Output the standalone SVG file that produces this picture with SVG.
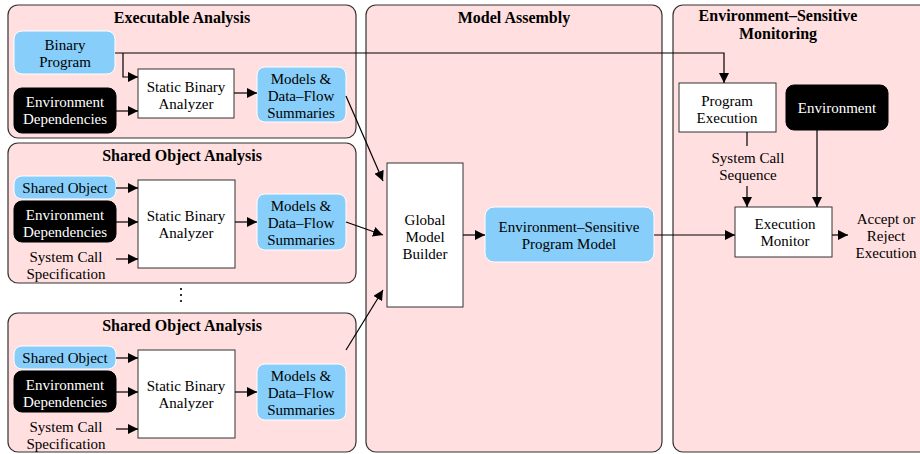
<svg xmlns="http://www.w3.org/2000/svg" width="920" height="454" viewBox="0 0 920 454">
<defs>
<marker id="ah" viewBox="0 0 10 10" refX="10" refY="5" markerWidth="10" markerHeight="10" markerUnits="userSpaceOnUse" orient="auto">
<path d="M0,0 L10,5 L0,10 z" fill="#000"/>
</marker>
</defs>
<style>
text{font-family:"Liberation Serif","Tinos","Times New Roman","DejaVu Serif",serif;font-size:15px;text-anchor:middle;fill:#000}
.title{font-weight:bold;font-size:16px}
.panel{fill:#FFDFDF;stroke:#333;stroke-width:1.2}
.blue{fill:#87CEFA;stroke:#fff;stroke-width:1}
.black{fill:#000;stroke:#000}
.white{fill:#fff;stroke:#333;stroke-width:1}
.wt{fill:#fff}
.conn{fill:none;stroke:#000;stroke-width:1.2}
</style>
<rect width="920" height="454" fill="#fff"/>
<g id="panels">
<rect class="panel" x="8" y="5" width="348" height="133" rx="10"/>
<text class="title" x="182" y="23">Executable Analysis</text>
<rect class="panel" x="8" y="143" width="348" height="140" rx="10"/>
<text class="title" x="182" y="161">Shared Object Analysis</text>
<rect class="panel" x="8" y="313" width="348" height="139" rx="10"/>
<text class="title" x="182" y="331">Shared Object Analysis</text>
<rect class="panel" x="366" y="5" width="296" height="447" rx="10"/>
<text class="title" x="514" y="23">Model Assembly</text>
<rect class="panel" x="673" y="5" width="260" height="447" rx="10"/>
<text class="title" x="778" y="21">Environment–Sensitive</text>
<text class="title" x="778" y="39">Monitoring</text>
</g>
<g id="exe-binary"><rect class="blue" x="14" y="31" width="101" height="43" rx="8"/><text x="65" y="50">Binary</text><text x="65" y="67">Program</text></g>
<g id="exe-env"><rect class="black" x="14" y="88" width="102" height="45" rx="8"/><text class="wt" x="65" y="107">Environment</text><text class="wt" x="65" y="124">Dependencies</text></g>
<g id="exe-sba"><rect class="white" x="138" y="69" width="96" height="49"/><text x="186" y="92">Static Binary</text><text x="186" y="109">Analyzer</text></g>
<g id="exe-models"><rect class="blue" x="257" y="67" width="89" height="55" rx="8"/><text x="301" y="84">Models &amp;</text><text x="301" y="101">Data–Flow</text><text x="301" y="118">Summaries</text></g>

<g id="so1-shared"><rect class="blue" x="14" y="176" width="102" height="23" rx="8"/><text x="65" y="193">Shared Object</text></g>
<g id="so1-env"><rect class="black" x="14" y="201" width="102" height="41" rx="8"/><text class="wt" x="65" y="220">Environment</text><text class="wt" x="65" y="237">Dependencies</text></g>
<g id="so1-spec"><text x="66" y="262">System Call</text><text x="66" y="279">Specification</text></g>
<g id="so1-sba"><rect class="white" x="138" y="180" width="97" height="88"/><text x="186" y="221">Static Binary</text><text x="186" y="238">Analyzer</text></g>
<g id="so1-models"><rect class="blue" x="257" y="194" width="89" height="56" rx="8"/><text x="301" y="211">Models &amp;</text><text x="301" y="228">Data–Flow</text><text x="301" y="245">Summaries</text></g>

<g id="dots"><circle cx="181" cy="289" r="1.1"/><circle cx="181" cy="295" r="1.1"/><circle cx="181" cy="301" r="1.1"/></g>

<g id="so2-shared"><rect class="blue" x="14" y="346" width="102" height="23" rx="8"/><text x="65" y="363">Shared Object</text></g>
<g id="so2-env"><rect class="black" x="14" y="371" width="102" height="41" rx="8"/><text class="wt" x="65" y="390">Environment</text><text class="wt" x="65" y="407">Dependencies</text></g>
<g id="so2-spec"><text x="66" y="432">System Call</text><text x="66" y="449">Specification</text></g>
<g id="so2-sba"><rect class="white" x="138" y="350" width="97" height="88"/><text x="186" y="391">Static Binary</text><text x="186" y="408">Analyzer</text></g>
<g id="so2-models"><rect class="blue" x="257" y="364" width="89" height="56" rx="8"/><text x="301" y="381">Models &amp;</text><text x="301" y="398">Data–Flow</text><text x="301" y="415">Summaries</text></g>

<g id="gmb"><rect class="white" x="387" y="163" width="76" height="144"/><text x="425" y="225">Global</text><text x="425" y="242">Model</text><text x="425" y="259">Builder</text></g>
<g id="espm"><rect class="blue" x="485" y="207" width="169" height="55" rx="9"/><text x="569" y="232">Environment–Sensitive</text><text x="569" y="249">Program Model</text></g>

<g id="progexec"><rect class="white" x="679" y="83" width="97" height="49"/><text x="727" y="106">Program</text><text x="727" y="123">Execution</text></g>
<g id="environment"><rect class="black" x="786" y="85" width="102" height="45" rx="8"/><text class="wt" x="837" y="113">Environment</text></g>
<g id="syscallseq"><text x="748" y="163">System Call</text><text x="748" y="180">Sequence</text></g>
<g id="monitor"><rect class="white" x="735" y="207" width="97" height="50"/><text x="785" y="229">Execution</text><text x="785" y="246">Monitor</text></g>
<g id="result"><text x="886" y="224">Accept or</text><text x="886" y="241">Reject</text><text x="886" y="258">Execution</text></g>

<g id="connectors">
<path class="conn" d="M115,53 H724 V83" marker-end="url(#ah)"/>
<path class="conn" d="M123,53 V77 H138" marker-end="url(#ah)"/>
<path class="conn" d="M116,111 H138" marker-end="url(#ah)"/>
<path class="conn" d="M234,93 H257" marker-end="url(#ah)"/>
<path class="conn" d="M116,188 H138" marker-end="url(#ah)"/>
<path class="conn" d="M116,222 H138" marker-end="url(#ah)"/>
<path class="conn" d="M116,259 H138" marker-end="url(#ah)"/>
<path class="conn" d="M235,222 H257" marker-end="url(#ah)"/>
<path class="conn" d="M116,358 H138" marker-end="url(#ah)"/>
<path class="conn" d="M116,392 H138" marker-end="url(#ah)"/>
<path class="conn" d="M116,429 H138" marker-end="url(#ah)"/>
<path class="conn" d="M235,392 H257" marker-end="url(#ah)"/>
<path class="conn" d="M346,96 L383,181" marker-end="url(#ah)"/>
<path class="conn" d="M346,222 L383,235" marker-end="url(#ah)"/>
<path class="conn" d="M346,350 L383,290" marker-end="url(#ah)"/>
<path class="conn" d="M463,235 H485" marker-end="url(#ah)"/>
<path class="conn" d="M654,235 H735" marker-end="url(#ah)"/>
<path class="conn" d="M747,132 V146"/>
<path class="conn" d="M747,186 V207" marker-end="url(#ah)"/>
<path class="conn" d="M817,130 V207" marker-end="url(#ah)"/>
<path class="conn" d="M832,235 H848" marker-end="url(#ah)"/>
</g>
</svg>
